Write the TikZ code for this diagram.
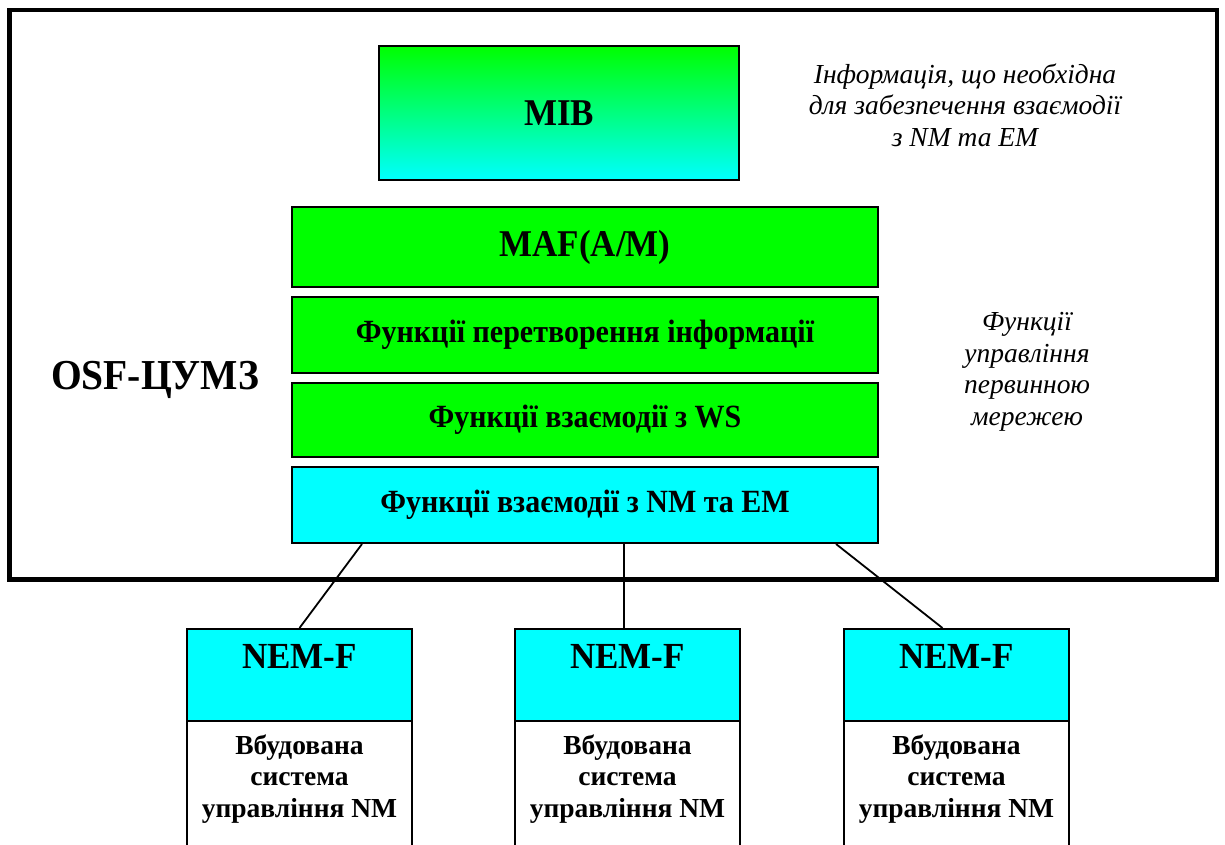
\documentclass[tikz,border=0pt]{standalone}
\usepackage{fontspec}
\setmainfont{Liberation Serif}
\definecolor{brgreen}{RGB}{0,255,0}
\definecolor{brcyan}{RGB}{0,255,255}
\begin{document}
\begin{tikzpicture}[x=1pt,y=-1pt,
  box/.style={draw=black, line width=2pt, inner sep=0pt, rectangle},
  layer/.style={box, minimum width=586pt},
  nemtop/.style={box, fill=brcyan, minimum width=225pt, minimum height=92pt},
  nembot/.style={box, fill=white, minimum width=225pt, minimum height=127pt},
  conn/.style={line width=1.8pt},
  big/.style={font=\fontsize{35}{40}\selectfont\bfseries},
  mid/.style={font=\fontsize{30}{34}\selectfont\bfseries},
  small/.style={font=\fontsize{27.5}{31.5}\selectfont\bfseries, align=center},
  note/.style={font=\fontsize{27.5}{31.5}\selectfont\itshape, align=center}]
\useasboundingbox (0,0) rectangle (1225,845);
\clip (0,0) rectangle (1225,845);
\fill[white] (0,0) rectangle (1225,845);
\node[draw=black, line width=4.5pt, minimum width=1207.5pt, minimum height=569.5pt, inner sep=0pt] (frame) at (613.25,294.75) {};
\node[box, top color=brgreen, bottom color=brcyan, minimum width=360pt, minimum height=134pt, big] (mib) at (559,113) {\scalebox{1}[1.08]{MIB}};
\node[layer, fill=brgreen, minimum height=80pt, big] (maf) at (585,247) {\scalebox{1}[1.08]{MAF(A/M)}};
\node[layer, fill=brgreen, minimum height=76pt, mid] (conv) at (585,335) {\scalebox{1}[1.08]{Функції перетворення інформації}};
\node[layer, fill=brgreen, minimum height=74pt, mid] (ws) at (585,420) {\scalebox{1}[1.08]{Функції взаємодії з WS}};
\node[layer, fill=brcyan, minimum height=76pt, mid] (nmem) at (585,505) {\scalebox{1}[1.08]{Функції взаємодії з NM та EM}};
\node[font=\fontsize{39.5}{44}\selectfont\bfseries] (osf) at (155,380) {\scalebox{1}[1.08]{OSF-ЦУМЗ}};
\node[note] (info) at (965,105) {Інформація, що необхідна\\для забезпечення взаємодії\\з NM та EM};
\node[note] (func) at (1027,372) {Функції\\управління\\первинною\\мережею};
\foreach \i/\x in {1/299.5, 2/627.5, 3/956.5}{
  \node[nemtop] (nem\i) at (\x,675) {};
  \node[big] (nemt\i) at (\x,656) {\scalebox{1}[1.05]{NEM-F}};
  \node[nembot] (emb\i) at (\x,784.5) {};
  \node[small] (embt\i) at (\x,779) {Вбудована\\система\\управління NM};
}
\draw[conn] ([xshift=71pt]nmem.south west) -- (nem1.north);
\draw[conn] ([xshift=39pt]nmem.south) -- ([xshift=-3.5pt]nem2.north);
\draw[conn] ([xshift=-43pt]nmem.south east) -- ([xshift=-14pt]nem3.north);
\end{tikzpicture}
\end{document}
